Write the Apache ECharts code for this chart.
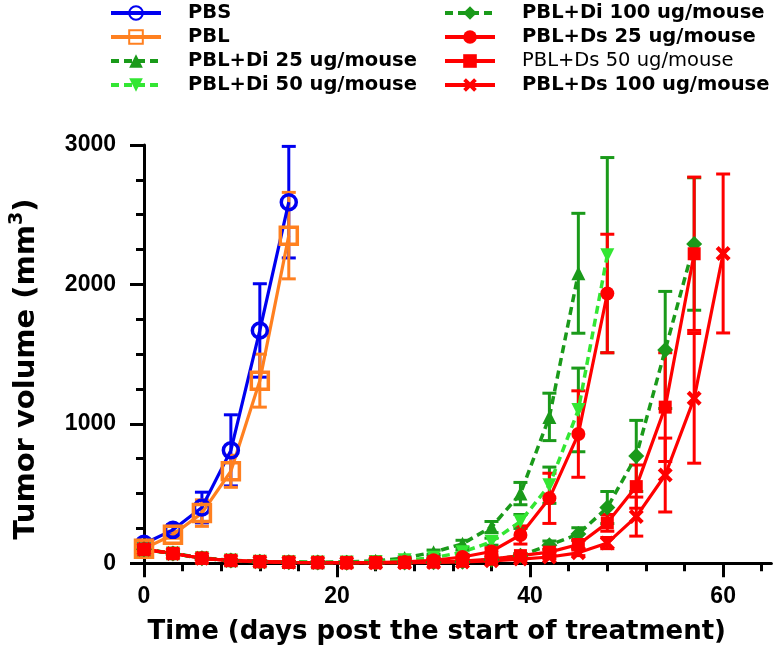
<!DOCTYPE html>
<html>
<head>
<meta charset="utf-8">
<script src="https://cdn.jsdelivr.net/npm/echarts@6/dist/echarts.min.js"></script>
<style>html,body{margin:0;padding:0;background:#fff}#c{width:774px;height:657px}</style>
</head>
<body>
<div id="c"></div>
<script>
// ---- data ----
const daysCtrl = [0, 3, 6, 9, 12, 15];
const pbsMean = [140, 240, 400, 810, 1670, 2590];
const pbsErr  = [20, 35, 110, 255, 335, 400];
const pblMean = [105, 205, 360, 660, 1310, 2350];
const pblErr  = [15, 25, 95, 115, 190, 310];

const daysDi25 = [0,3,6,9,12,15,18,21,24,27,30,33,36,39,42,45];
const di25Mean = [100,72,38,22,14,9,8,9,18,38,80,140,260,500,1050,2080];
const di25Err  = [10,10,8,5,4,3,3,3,5,8,15,25,40,80,170,430];

const daysDi50 = [0,3,6,9,12,15,18,21,24,27,30,33,36,39,42,45,48];
const di50Mean = [100,70,36,20,12,8,6,6,10,22,40,80,155,300,560,1100,2210];
const di50Err  = [10,10,8,5,4,3,3,3,4,6,10,15,25,50,130,300,700];

const daysDi100 = [0,3,6,9,12,15,18,21,24,27,30,33,36,39,42,45,48,51,54,57];
const di100Mean = [100,70,36,20,12,7,5,4,4,6,8,12,25,55,130,210,400,770,1530,2290];
const di100Err  = [10,10,8,5,4,3,3,3,3,3,4,5,8,15,30,45,115,255,420,475];

const daysDs25 = [0,3,6,9,12,15,18,21,24,27,30,33,36,39,42,45,48];
const ds25Mean = [100,70,36,20,12,7,5,4,5,10,22,45,85,203,466,927,1935];
const ds25Err  = [10,10,8,5,4,3,3,3,3,4,6,12,25,65,180,310,425];

const daysDs50 = [0,3,6,9,12,15,18,21,24,27,30,33,36,39,42,45,48,51,54,57];
const ds50Mean = [100,70,36,20,12,7,5,4,4,5,8,15,30,55,80,135,290,550,1120,2220];
const ds50Err  = [10,10,8,5,4,3,3,3,3,3,4,5,8,12,20,30,60,155,390,550];

const daysDs100 = [0,3,6,9,12,15,18,21,24,27,30,33,36,39,42,45,48,51,54,57,60];
const ds100Mean = [100,70,36,20,12,7,5,4,4,4,6,10,18,30,45,75,145,335,633,1183,2222];
const ds100Err  = [10,10,8,5,4,3,3,3,3,3,3,4,6,8,12,20,40,140,265,465,570];

const seriesNames = ['PBS','PBL','PBL+Di 25 ug/mouse','PBL+Di 50 ug/mouse',
  'PBL+Di 100 ug/mouse','PBL+Ds 25 ug/mouse','PBL+Ds 50 ug/mouse','PBL+Ds 100 ug/mouse'];
const xTickLabels = [0, 20, 40, 60];
const xMinorTicks = [4,8,12,16,24,28,32,36,44,48,52,56,64];

// ---- styles ----
const BLUE = '#0000f0', ORANGE = '#ff8020', DKGREEN = '#1a9a1a', LTGREEN = '#33e633', RED = '#ff0000';
const XPATH = 'path://M0,2L2,0L5,3L8,0L10,2L7,5L10,8L8,10L5,7L2,10L0,8L3,5Z';
const TITLEFONT = "'DejaVu Sans', sans-serif";
const NUMFONT = "'Liberation Sans', Arial, sans-serif";

function pairs(days, vals){ return days.map((d,i)=>[d, vals[i]]); }

function errSeries(days, mean, err, color){
  return {
    type: 'custom',
    data: days.map((d,i)=>[d, Math.max(0, mean[i]-err[i]), mean[i]+err[i]]),
    encode: {x: 0, y: [1, 2]},
    silent: true,
    renderItem(params, api){
      const x = api.value(0);
      const lo = api.coord([x, api.value(1)]);
      const hi = api.coord([x, api.value(2)]);
      const w = 7;
      const st = {stroke: color, lineWidth: 3};
      return {type: 'group', children: [
        {type: 'line', shape: {x1: lo[0], y1: lo[1], x2: hi[0], y2: hi[1]}, style: st},
        {type: 'line', shape: {x1: hi[0]-w, y1: hi[1], x2: hi[0]+w, y2: hi[1]}, style: st},
        {type: 'line', shape: {x1: lo[0]-w, y1: lo[1], x2: lo[0]+w, y2: lo[1]}, style: st}
      ]};
    }
  };
}

function lineSeries(name, days, mean, color, symbol, size, opts){
  opts = opts || {};
  return {
    type: 'line', name: name, data: pairs(days, mean),
    symbol: symbol, symbolSize: size, symbolRotate: opts.rotate || 0,
    showAllSymbol: true, clip: false,
    lineStyle: {color: color, width: opts.dash ? 3.5 : 3.2, type: opts.dash ? [8, 5] : 'solid'},
    itemStyle: opts.hollow
      ? {color: 'rgba(255,255,255,0)', borderColor: color, borderWidth: 3.5}
      : {color: color, borderWidth: 0},
    emphasis: {disabled: true}
  };
}

const series = [
  errSeries(daysCtrl, pbsMean, pbsErr, BLUE),
  lineSeries(seriesNames[0], daysCtrl, pbsMean, BLUE, 'circle', 15, {hollow: true}),
  errSeries(daysCtrl, pblMean, pblErr, ORANGE),
  lineSeries(seriesNames[1], daysCtrl, pblMean, ORANGE, 'rect', 17, {hollow: true}),
  errSeries(daysDi25, di25Mean, di25Err, DKGREEN),
  lineSeries(seriesNames[2], daysDi25, di25Mean, DKGREEN, 'triangle', 14, {dash: true}),
  errSeries(daysDi50, di50Mean, di50Err, DKGREEN),
  lineSeries(seriesNames[3], daysDi50, di50Mean, LTGREEN, 'triangle', 14, {dash: true, rotate: 180}),
  errSeries(daysDi100, di100Mean, di100Err, DKGREEN),
  lineSeries(seriesNames[4], daysDi100, di100Mean, DKGREEN, 'diamond', 16, {dash: true}),
  errSeries(daysDs25, ds25Mean, ds25Err, RED),
  lineSeries(seriesNames[5], daysDs25, ds25Mean, RED, 'circle', 14),
  errSeries(daysDs50, ds50Mean, ds50Err, RED),
  lineSeries(seriesNames[6], daysDs50, ds50Mean, RED, 'rect', 13),
  errSeries(daysDs100, ds100Mean, ds100Err, RED),
  lineSeries(seriesNames[7], daysDs100, ds100Mean, RED, XPATH, 15)
];

const legendText = {fontFamily: TITLEFONT, fontWeight: 'bold', fontSize: 19.5, color: '#000',
  lineHeight: 20, padding: [0, 0, 0, 22]};
const legendCommon = {orient: 'vertical', padding: 0, itemGap: 4, itemWidth: 50, itemHeight: 17,
  textStyle: legendText, selectedMode: false, lineStyle: {width: 4}};

const chart = echarts.init(document.getElementById('c'), null, {renderer: 'canvas'});
chart.setOption({
  animation: false,
  backgroundColor: '#fff',
  grid: {left: 142.7, right: 2.6, top: 145, bottom: 93.7, containLabel: false},
  legend: [
    Object.assign({left: 109, top: 3, data: seriesNames.slice(0, 4)}, legendCommon),
    Object.assign({left: 443, top: 3, data: [seriesNames[4], seriesNames[5],
      {name: seriesNames[6], textStyle: {fontWeight: 'normal'}}, seriesNames[7]]}, legendCommon)
  ],
  xAxis: [{
    type: 'value', min: 0, max: 65, interval: 20,
    splitLine: {show: false},
    axisLine: {lineStyle: {color: '#000', width: 3}},
    axisTick: {customValues: xTickLabels, length: 14, lineStyle: {color: '#000', width: 3}},
    axisLabel: {customValues: xTickLabels, margin: 22, color: '#000', fontFamily: NUMFONT,
      fontWeight: 'bold', fontSize: 23},
    name: 'Time (days post the start of treatment)', nameLocation: 'middle', nameGap: 56,
    nameTextStyle: {fontFamily: TITLEFONT, fontWeight: 'bold', fontSize: 26, color: '#000',
      padding: [0, 42, 0, 0]}
  }, {
    type: 'value', min: 0, max: 65, position: 'bottom',
    splitLine: {show: false},
    axisLine: {show: false},
    axisTick: {customValues: xMinorTicks, length: 8, lineStyle: {color: '#000', width: 3}},
    axisLabel: {show: false}
  }],
  yAxis: {
    type: 'value', min: 0, max: 3000, interval: 1000,
    splitLine: {show: false},
    axisLine: {show: true, lineStyle: {color: '#000', width: 3}},
    axisTick: {show: true, length: 14, lineStyle: {color: '#000', width: 3}},
    minorTick: {show: true, splitNumber: 4, length: 8, lineStyle: {color: '#000', width: 3}},
    axisLabel: {margin: 28, color: '#000', fontFamily: NUMFONT, fontWeight: 'bold', fontSize: 23,
      formatter: v => String(v)},
    name: 'Tumor volume (mm{s|3})', nameLocation: 'middle', nameGap: 100,
    nameTextStyle: {fontFamily: TITLEFONT, fontWeight: 'bold', fontSize: 29, color: '#000',
      lineHeight: 36, padding: [0, 30, 0, 0],
      rich: {s: {fontFamily: TITLEFONT, fontWeight: 'bold', fontSize: 19, color: '#000',
        verticalAlign: 'top', lineHeight: 20}}}
  },
  series: series
});
</script>
</body>
</html>
